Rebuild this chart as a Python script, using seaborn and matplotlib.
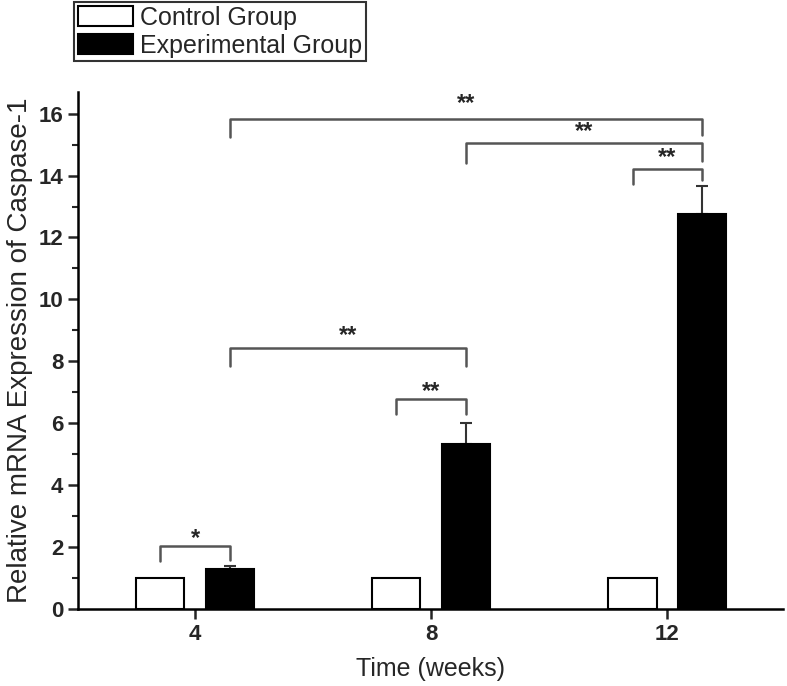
import pandas as pd
import seaborn as sns
import matplotlib.pyplot as plt
from matplotlib.ticker import MultipleLocator

# Data
weeks = ['4', '8', '12']
groups = ['Control Group', 'Experimental Group']
control = [1.0, 1.0, 1.0]
experimental = [1.29, 5.32, 12.77]
exp_err = [0.10, 0.68, 0.90]

# significance brackets: from bar, to bar, bracket top, left end, right end, star height, label
brackets = [
    (('4', 'Control Group'), ('4', 'Experimental Group'), 2.03, 1.55, 1.60, 2.39, '*'),
    (('8', 'Control Group'), ('8', 'Experimental Group'), 6.77, 6.29, 6.29, 7.16, '**'),
    (('4', 'Experimental Group'), ('8', 'Experimental Group'), 8.42, 7.84, 7.84, 8.94, '**'),
    (('12', 'Control Group'), ('12', 'Experimental Group'), 14.20, 13.74, 13.87, 14.71, '**'),
    (('8', 'Experimental Group'), ('12', 'Experimental Group'), 15.06, 14.39, 14.48, 15.55, '**'),
    (('4', 'Experimental Group'), ('12', 'Experimental Group'), 15.84, 15.26, 15.32, 16.45, '**'),
]

data = pd.DataFrame({
    'Week': weeks * 2,
    'Group': [groups[0]] * 3 + [groups[1]] * 3,
    'Value': control + experimental,
})

sns.set_style('ticks')
plt.rcParams['font.family'] = ['Liberation Sans', 'DejaVu Sans']

fig = plt.figure(figsize=(7.87, 6.86), dpi=100)
ax = fig.add_axes([0.099, 0.112, 0.896, 0.754])

sns.barplot(data=data, x='Week', y='Value', hue='Group', order=weeks, hue_order=groups,
            palette={groups[0]: 'white', groups[1]: 'black'}, edgecolor='black', linewidth=1.5,
            width=0.59, gap=0.31, errorbar=None, ax=ax)

# bar centres from the drawn bars
pos = {}
for g, cont in zip(groups, ax.containers):
    for w, bar in zip(weeks, cont):
        pos[(w, g)] = bar.get_x() + bar.get_width() / 2

exp_x = [pos[(w, groups[1])] for w in weeks]
ax.errorbar(exp_x, experimental, yerr=[[0] * 3, exp_err], fmt='none', ecolor='#333333',
            elinewidth=1.5, capsize=4, capthick=1.5, zorder=0.5)

for a, b, top, yl, yr, ys, lab in brackets:
    x1, x2 = pos[a], pos[b]
    ax.plot([x1, x1, x2, x2], [yl, top, top, yr], color='#555555', lw=1.8, clip_on=False)
    ax.text((x1 + x2) / 2, ys - 0.12, lab, ha='center', va='center', fontsize=17,
            fontweight='bold')

ax.set_ylim(0, 16.7)
ax.set_xlim(-0.496, 2.49)
ax.yaxis.set_major_locator(MultipleLocator(2))
ax.yaxis.set_minor_locator(MultipleLocator(1))
ax.tick_params(axis='both', which='major', length=7, width=1.8, direction='out', labelsize=16)
ax.tick_params(axis='y', which='minor', length=4, width=1.5, direction='out')
for lbl in ax.get_xticklabels() + ax.get_yticklabels():
    lbl.set_fontweight('bold')

ax.set_ylabel('Relative mRNA Expression of Caspase-1', fontsize=20, fontweight='medium',
              labelpad=4)
ax.set_xlabel('Time (weeks)', fontsize=18, fontweight='medium', labelpad=9)
sns.despine(ax=ax)
for s in ['left', 'bottom']:
    ax.spines[s].set_linewidth(1.8)
    ax.spines[s].set_color('black')

handles, labels = ax.get_legend_handles_labels()
leg = ax.legend(handles, labels, loc='upper left', bbox_to_anchor=(74 / 787, 1 - 2 / 686),
                bbox_transform=fig.transFigure, fontsize=18, frameon=True, fancybox=False,
                edgecolor='black', handlelength=2.2, handleheight=0.85, labelspacing=0.15,
                borderpad=0.15, handletextpad=0.3, borderaxespad=0)
leg.get_frame().set_linewidth(1.5)

fig.savefig('out.png', dpi=100)
